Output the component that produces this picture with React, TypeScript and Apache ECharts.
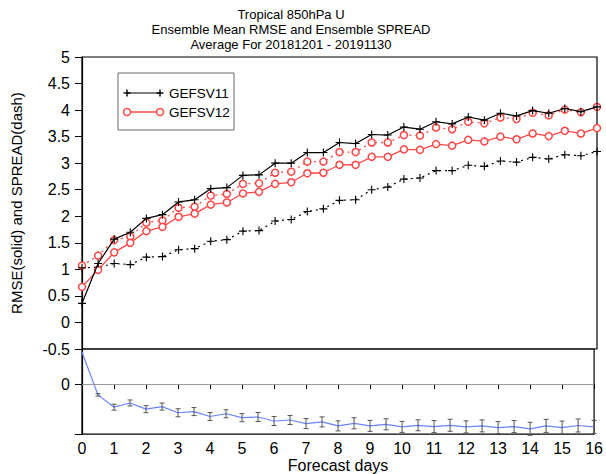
import React, { useEffect, useRef } from "react";
import * as echarts from "echarts";

const days = [0, 0.5, 1, 1.5, 2, 2.5, 3, 3.5, 4, 4.5, 5, 5.5, 6, 6.5, 7, 7.5, 8, 8.5, 9, 9.5, 10, 10.5, 11, 11.5, 12, 12.5, 13, 13.5, 14, 14.5, 15, 15.5, 16];
const v11Rmse = [0.36, 1.11, 1.57, 1.70, 1.96, 2.03, 2.27, 2.31, 2.52, 2.54, 2.77, 2.78, 3.00, 3.00, 3.20, 3.20, 3.39, 3.37, 3.54, 3.53, 3.68, 3.64, 3.78, 3.74, 3.87, 3.81, 3.94, 3.89, 3.99, 3.94, 4.03, 3.97, 4.06];
const v12Rmse = [0.67, 0.99, 1.32, 1.50, 1.72, 1.80, 1.99, 2.05, 2.22, 2.26, 2.43, 2.46, 2.61, 2.64, 2.81, 2.82, 2.97, 2.97, 3.12, 3.12, 3.26, 3.25, 3.36, 3.33, 3.44, 3.41, 3.50, 3.45, 3.56, 3.51, 3.61, 3.56, 3.66];
const v11Spread = [1.03, 1.04, 1.11, 1.09, 1.23, 1.24, 1.37, 1.39, 1.53, 1.56, 1.72, 1.73, 1.91, 1.94, 2.09, 2.14, 2.30, 2.31, 2.50, 2.55, 2.70, 2.72, 2.86, 2.86, 2.96, 2.94, 3.04, 3.02, 3.11, 3.08, 3.16, 3.14, 3.22];
const v12Spread = [1.07, 1.26, 1.55, 1.62, 1.88, 1.92, 2.16, 2.18, 2.39, 2.42, 2.61, 2.62, 2.82, 2.84, 3.03, 3.03, 3.21, 3.21, 3.39, 3.39, 3.53, 3.52, 3.67, 3.64, 3.78, 3.75, 3.86, 3.83, 3.95, 3.90, 4.01, 3.96, 4.06];
const rmseDiff = [0.318, -0.108, -0.231, -0.189, -0.251, -0.225, -0.287, -0.275, -0.324, -0.297, -0.336, -0.329, -0.369, -0.359, -0.395, -0.378, -0.418, -0.392, -0.418, -0.402, -0.428, -0.412, -0.425, -0.412, -0.428, -0.418, -0.435, -0.425, -0.447, -0.418, -0.435, -0.414, -0.428];
const diffErr = [0.0, 0.012, 0.03, 0.03, 0.035, 0.035, 0.04, 0.04, 0.04, 0.04, 0.04, 0.045, 0.045, 0.045, 0.05, 0.05, 0.05, 0.055, 0.055, 0.055, 0.055, 0.055, 0.06, 0.06, 0.06, 0.06, 0.06, 0.06, 0.065, 0.065, 0.065, 0.065, 0.065];

const titleLines = ["Tropical 850hPa U", "Ensemble Mean RMSE and Ensemble SPREAD", "Average For 20181201 - 20191130"];
const legendNames = ["GEFSV11", "GEFSV12"];
const yAxisTitle = "RMSE(solid) and SPREAD(dash)";
const xAxisTitle = "Forecast days";

const FONT = "Liberation Sans";
const RED = "#ff4646";
const BLUE = "#6a84ff";
const PLUS = "path://M-0.7,-5 L0.7,-5 L0.7,-0.7 L5,-0.7 L5,0.7 L0.7,0.7 L0.7,5 L-0.7,5 L-0.7,0.7 L-5,0.7 L-5,-0.7 L-0.7,-0.7 Z";

const pairs = (ys: number[]) => days.map((d, i) => [d, ys[i]]);

export default function App() {
  const ref = useRef<HTMLDivElement>(null);
  useEffect(() => {
    if (!ref.current) return;
    const chart = echarts.init(ref.current, null, { renderer: "svg" });
    const plusAt = (x: number, y: number) => [
      { type: "line", shape: { x1: x - 3.5, y1: y, x2: x + 3.5, y2: y }, style: { stroke: "#000", lineWidth: 1.4 } },
      { type: "line", shape: { x1: x, y1: y - 3.5, x2: x, y2: y + 3.5 }, style: { stroke: "#000", lineWidth: 1.4 } },
    ];
    const option: any = {
      animation: false,
      backgroundColor: "#fff",
      textStyle: { fontFamily: FONT },
      grid: [
        { left: 82, right: 9, top: 57, height: 292, show: true, borderColor: "#000", borderWidth: 1.2, backgroundColor: "transparent" },
        { left: 82, right: 9, top: 349, height: 88, show: true, borderColor: "#000", borderWidth: 1.2, backgroundColor: "transparent" },
      ],
      xAxis: [
        {
          type: "value", gridIndex: 0, min: 0, max: 16, interval: 1,
          axisLine: { show: false }, axisTick: { show: false }, axisLabel: { show: false }, splitLine: { show: false },
        },
        {
          type: "value", gridIndex: 1, min: 0, max: 16, interval: 1,
          axisLine: { show: true, lineStyle: { color: "#000", width: 1.2 } },
          axisTick: { show: true, length: 5, lineStyle: { color: "#000" } },
          axisLabel: { fontSize: 16, color: "#000", margin: 6, fontFamily: FONT },
          splitLine: { show: false },
          name: xAxisTitle, nameLocation: "middle", nameGap: 21,
          nameTextStyle: { fontSize: 16, color: "#000", fontFamily: FONT },
        },
      ],
      yAxis: [
        {
          type: "value", gridIndex: 0, min: -0.5, max: 5, interval: 0.5,
          axisLine: { show: true, lineStyle: { color: "#000", width: 1.2 } },
          axisTick: { show: true, length: 7, lineStyle: { color: "#000" } },
          axisLabel: { fontSize: 16, color: "#000", margin: 12, fontFamily: FONT },
          splitLine: { show: false },
          name: yAxisTitle, nameLocation: "middle", nameGap: 58,
          nameTextStyle: { fontSize: 15, color: "#000", fontFamily: FONT },
        },
        {
          type: "value", gridIndex: 1, min: -0.5, max: 0.35, interval: 0.5,
          axisLine: { show: true, lineStyle: { color: "#000", width: 1.2 } },
          axisTick: { show: true, length: 7, lineStyle: { color: "#000" } },
          axisLabel: { fontSize: 16, color: "#000", margin: 12, fontFamily: FONT, showMaxLabel: false, formatter: (v: number) => (v === 0 ? "0" : "") },
          splitLine: { show: false },
        },
      ],
      series: [
        {
          type: "line", name: "GEFSV12 spread", xAxisIndex: 0, yAxisIndex: 0, data: pairs(v12Spread),
          symbol: "circle", symbolSize: 7, lineStyle: { color: RED, width: 1.3, type: [2, 4] },
          itemStyle: { color: "#fff", borderColor: RED, borderWidth: 1.5 }, z: 3,
        },
        {
          type: "line", name: "GEFSV11 spread", xAxisIndex: 0, yAxisIndex: 0, data: pairs(v11Spread),
          symbol: PLUS, symbolSize: 8, lineStyle: { color: "#000", width: 1.2, type: [2, 4] },
          itemStyle: { color: "#000" }, z: 3,
        },
        {
          type: "line", name: "GEFSV12", xAxisIndex: 0, yAxisIndex: 0, data: pairs(v12Rmse),
          symbol: "circle", symbolSize: 7, lineStyle: { color: RED, width: 1.3 },
          itemStyle: { color: "#fff", borderColor: RED, borderWidth: 1.5 }, z: 4,
        },
        {
          type: "line", name: "GEFSV11", xAxisIndex: 0, yAxisIndex: 0, data: pairs(v11Rmse),
          symbol: PLUS, symbolSize: 8, lineStyle: { color: "#000", width: 1.2 },
          itemStyle: { color: "#000" }, z: 5,
        },
        {
          type: "line", name: "diff", xAxisIndex: 1, yAxisIndex: 1, data: pairs(rmseDiff),
          showSymbol: false, symbol: "none", lineStyle: { color: BLUE, width: 1.2 }, z: 3,
          markLine: {
            silent: true, symbol: "none", label: { show: false },
            lineStyle: { color: "#999", width: 1.2, type: "solid" },
            data: [{ yAxis: 0 }],
          },
        },
        {
          type: "custom", name: "err", xAxisIndex: 1, yAxisIndex: 1,
          data: days.map((d, i) => [d, rmseDiff[i], diffErr[i]]),
          encode: { x: 0, y: 1 }, z: 4,
          renderItem: (params: any, api: any) => {
            const x = api.value(0), y = api.value(1), e = api.value(2);
            if (e <= 0) return { type: "group", children: [] };
            const t = api.coord([x, y + e]);
            const b = api.coord([x, y - e]);
            const w = 2.5;
            const st = { stroke: "#555", lineWidth: 1 };
            return {
              type: "group",
              children: [
                { type: "line", shape: { x1: t[0], y1: t[1], x2: b[0], y2: b[1] }, style: st },
                { type: "line", shape: { x1: t[0] - w, y1: t[1], x2: t[0] + w, y2: t[1] }, style: st },
                { type: "line", shape: { x1: b[0] - w, y1: b[1], x2: b[0] + w, y2: b[1] }, style: st },
              ],
            };
          },
        },
      ],
      graphic: [
        ...titleLines.map((t, i) => ({
          type: "text", left: undefined, x: 291, y: 14 + i * 15,
          style: { text: t, fontSize: 13, fontFamily: FONT, fill: "#000", textAlign: "center", textVerticalAlign: "middle" },
        })),
        { type: "rect", shape: { x: 118, y: 73, width: 116, height: 57 }, style: { fill: "#fff", stroke: "#666", lineWidth: 1 }, z: 10 },
        { type: "line", shape: { x1: 127, y1: 93, x2: 160, y2: 93 }, style: { stroke: "#000", lineWidth: 1.2 }, z: 11 },
        ...plusAt(127, 93).map((e) => ({ ...e, z: 11 })),
        ...plusAt(160, 93).map((e) => ({ ...e, z: 11 })),
        { type: "text", x: 169, y: 93, style: { text: legendNames[0], fontSize: 13.5, fontFamily: FONT, fill: "#000", textVerticalAlign: "middle" }, z: 11 },
        { type: "line", shape: { x1: 127, y1: 112, x2: 160, y2: 112 }, style: { stroke: RED, lineWidth: 1.3 }, z: 11 },
        { type: "circle", shape: { cx: 127, cy: 112, r: 3.5 }, style: { fill: "#fff", stroke: RED, lineWidth: 1.5 }, z: 12 },
        { type: "circle", shape: { cx: 160, cy: 112, r: 3.5 }, style: { fill: "#fff", stroke: RED, lineWidth: 1.5 }, z: 12 },
        { type: "text", x: 169, y: 112, style: { text: legendNames[1], fontSize: 13.5, fontFamily: FONT, fill: "#000", textVerticalAlign: "middle" }, z: 11 },
      ],
    };
    chart.setOption(option);
    return () => chart.dispose();
  }, []);
  return <div ref={ref} style={{ position: "fixed", left: 0, top: 0, width: 606, height: 474, background: "#fff" }} />;
}
